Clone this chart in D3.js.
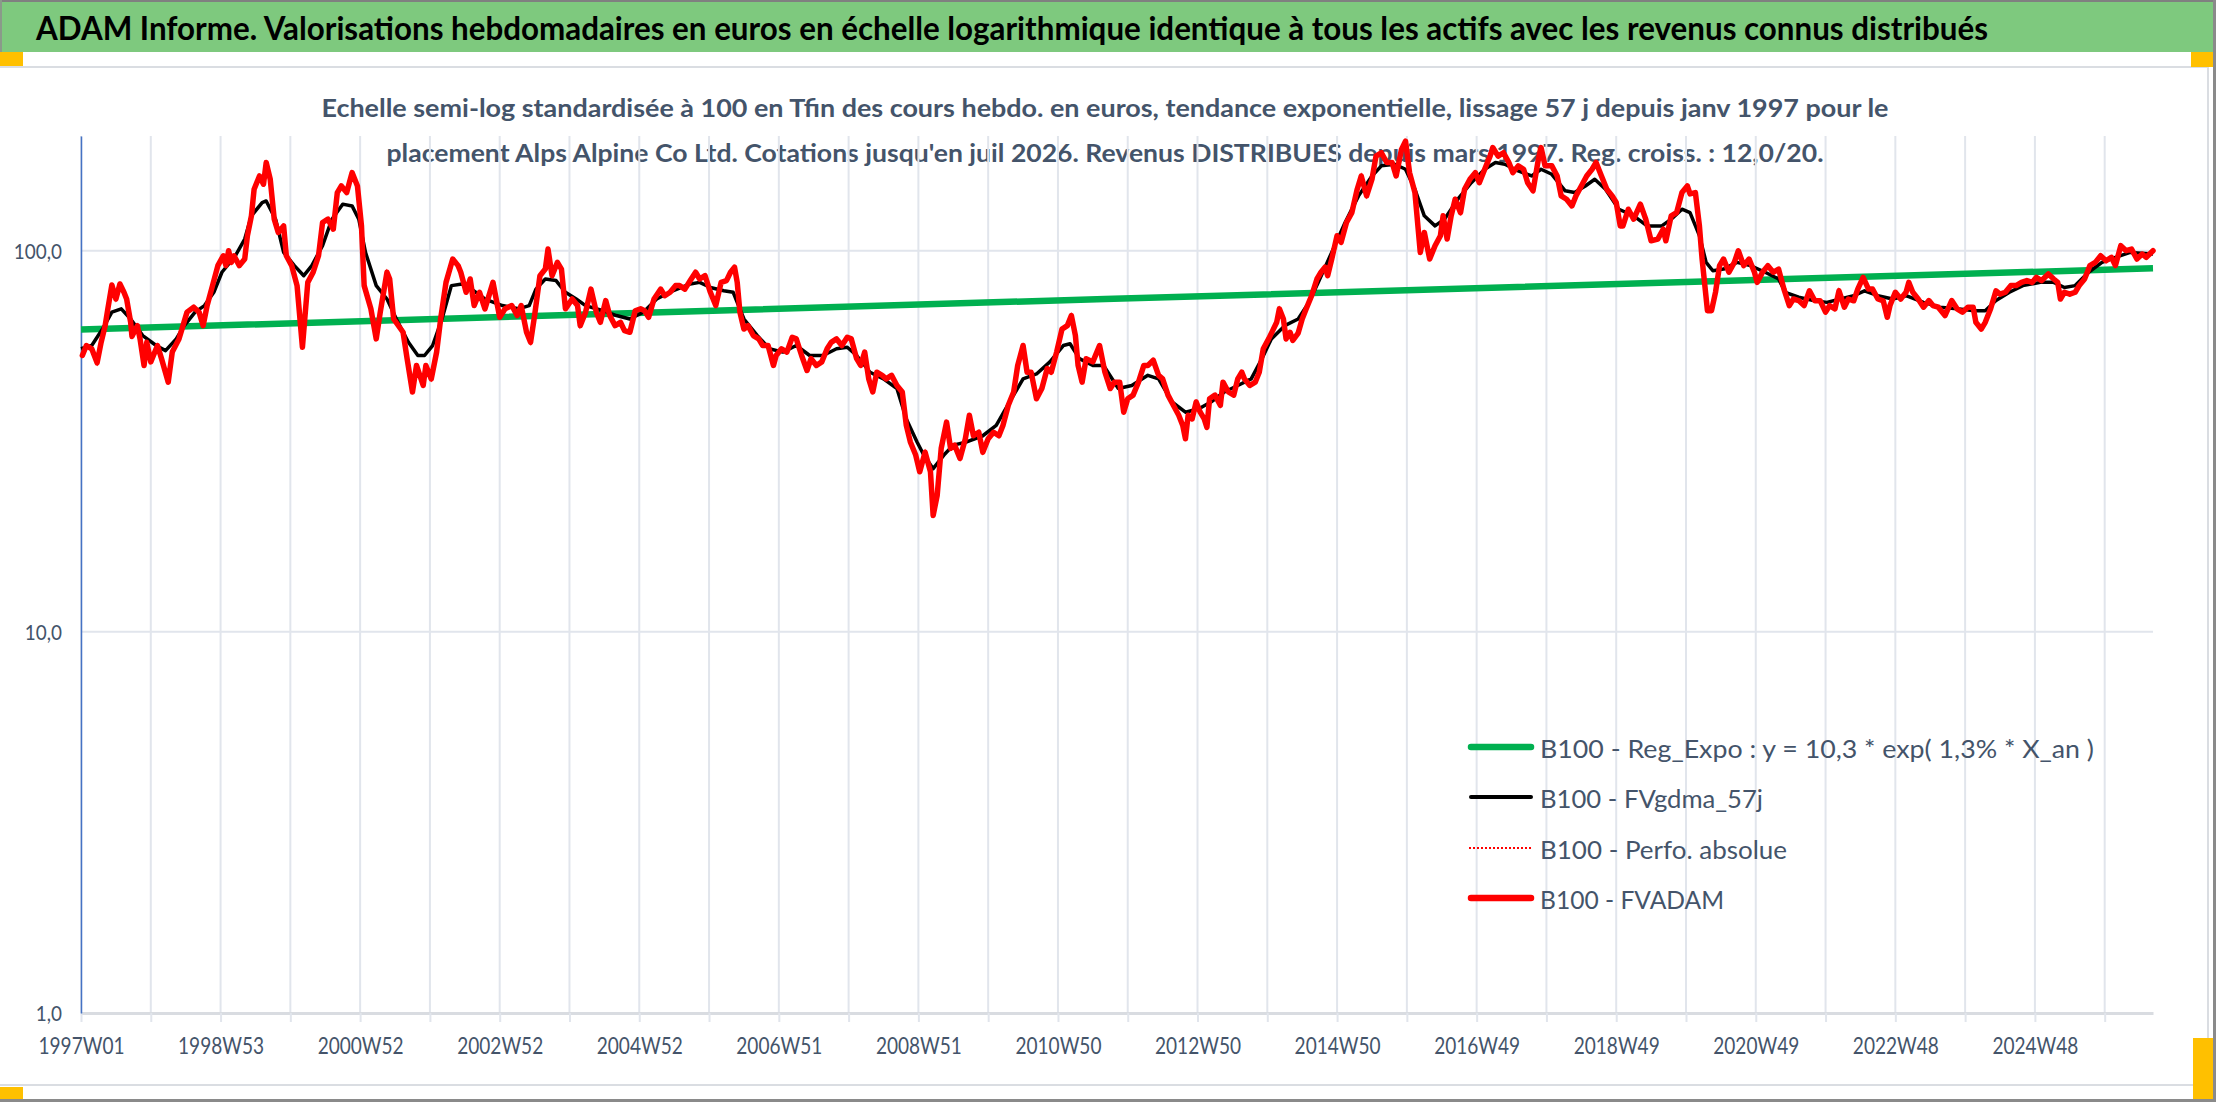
<!DOCTYPE html>
<html><head><meta charset="utf-8">
<script src="https://cdn.jsdelivr.net/npm/d3@7"></script>
<style>html,body{margin:0;padding:0;background:#fff;}svg{display:block;}</style>
</head><body>
<script>
// ---------- DATA ----------
const nWeeks = 1545; // weekly categories 1997W01 .. 2026 (juil)
const xTickLabels = ["1997W01","1998W53","2000W52","2002W52","2004W52","2006W51","2008W51","2010W50","2012W50","2014W50","2016W49","2018W49","2020W49","2022W48","2024W48"];
const yTickValues = [1, 10, 100];

// B100 - Reg_Expo (straight on log scale) [week index, value]
const regExpo = [[0,62.1],[763,74.7],[1544,89.9]];

// B100 - FVgdma_57j [week index, value]
const fvgdma = [[0,55.3],[8,56.4],[16,62.3],[23,69.0],[30,70.4],[37,66.2],[46,59.9],[56,56.4],[63,54.7],[71,58.7],[77,63.6],[85,69.0],[92,71.8],[99,77.8],[105,87.8],[115,97.0],[122,107.3],[127,123.5],[135,133.8],[138,135.1],[145,121.0],[151,99.0],[159,91.4],[166,86.0],[172,91.4],[180,103.1],[187,121.0],[195,132.5],[202,131.1],[207,121.0],[212,99.0],[220,81.0],[228,74.7],[235,66.2],[244,57.5],[251,53.1],[256,53.1],[262,56.4],[269,66.2],[276,81.0],[284,81.8],[291,79.3],[301,74.7],[314,71.8],[326,70.4],[334,71.8],[339,79.3],[346,84.3],[354,83.5],[361,77.8],[369,74.7],[376,71.8],
[389,69.6],[399,67.6],[409,66.2],[419,69.0],[429,74.7],[441,78.5],[454,81.8],[461,82.6],[469,80.1],[479,78.5],[486,77.8],[494,66.2],[504,59.9],[513,55.3],[523,54.2],[533,56.4],[543,53.1],[553,53.1],[563,55.3],[571,55.8],[578,53.1],[588,48.0],[598,46.1],[608,43.5],[615,36.2],[623,31.5],[628,29.1],[635,26.8],[643,29.1],[650,30.9],[660,31.5],[672,32.7],[682,34.8],[692,40.1],[702,46.1],[712,47.5],[722,51.1],[732,56.4],[737,57.0],[744,52.1],[754,50.0],[762,50.0],
[773,43.5],[783,44.3],[795,47.1],[803,46.1],[813,40.1],[823,37.7],[833,38.5],[842,40.1],[852,42.6],[862,44.3],[872,46.1],[880,52.1],[887,58.7],[897,63.6],[907,66.2],[915,73.2],[922,82.6],[932,99.0],[942,118.6],[952,139.3],[962,157.1],[969,167.0],[979,168.6],[987,163.6],[994,145.0],[1001,123.5],[1009,116.2],[1016,121.0],[1026,136.5],[1036,150.8],[1046,163.6],[1054,170.4],[1061,168.6],[1071,161.9],[1081,157.1],[1088,163.6],[1096,158.7],[1106,143.6],[1113,142.1],[1121,147.9],[1128,154.0],[1136,145.0],[1146,128.5],
[1157,123.5],[1167,116.2],[1178,116.2],[1185,121.0],[1193,128.5],[1199,125.9],[1206,109.5],[1211,93.2],[1216,88.6],[1224,89.5],[1234,93.2],[1244,91.4],[1255,87.8],[1265,84.3],[1270,77.8],[1280,75.5],[1291,74.0],[1301,73.2],[1311,74.7],[1321,76.2],[1329,78.5],[1339,76.2],[1350,74.7],[1360,76.2],[1373,73.2],[1385,71.1],[1398,70.4],[1411,69.6],[1419,69.6],[1427,74.0],[1437,77.8],[1447,81.0],[1460,82.6],[1470,82.6],[1478,80.1],[1486,81.0],[1496,87.8],[1506,93.2],[1516,96.1],[1527,99.0],[1544,98.0]];

// B100 - FVADAM [week index, value]
const fvadam = [[1,53.1],[4,56.4],[8,55.3],[12,50.8],[15,57.5],[18,63.6],[20,70.4],[23,81.3],[26,74.7],[29,81.8],[32,77.8],[34,74.7],[37,64.9],[38,59.6],[42,63.6],[44,58.7],[47,50.0],[49,57.5],[52,51.1],[57,56.4],[60,52.1],[65,45.2],[68,54.2],[73,58.7],[76,63.6],[79,69.0],[84,71.1],[88,69.0],[91,63.6],[94,71.8],[98,81.0],[102,91.4],[106,97.0],[108,91.4],[110,100],[112,93.2],[114,97.0],[118,91.4],[122,95.1],[124,109.5],[127,123.5],[129,145.0],[133,157.1],[136,149.5],[138,170.4],[141,154.0],[144,121.0],[147,111.7],[151,116.2],[153,97.0],[157,91.4],[161,81.0],[165,55.8],[169,82.6],[173,87.8],[177,97.0],[180,118.6],[184,121.0],[188,113.9],[191,142.1],[194,147.9],[198,142.1],[202,160.3],[206,147.9],[209,116.2],[211,81.0],[216,70.4],[220,58.7],[223,69.0],[228,87.8],[230,84.3],[233,66.2],[240,61.1],[243,52.1],[247,42.6],[250,50.0],[255,44.3],[257,50.0],[261,46.1],[265,54.2],[268,66.2],[272,82.6],[277,95.1],[281,91.4],[283,87.8],[287,77.8],[290,84.3],[293,71.8],[297,77.8],[301,70.4],[307,82.6],[312,66.9],[316,70.4],[321,71.8],[325,67.6],[328,71.8],[332,61.1],[335,57.5],[338,67.6],[342,86.0],[346,89.5],[348,101],[351,86.0],[355,93.2],[358,89.5],[361,70.4],[366,74.7],[370,71.8],[372,63.6],[376,69.0],
[380,79.3],[384,69.0],[387,64.9],[391,74.0],[394,67.6],[398,63.6],[402,64.9],[405,61.7],[409,61.1],[413,69.6],[417,70.4],[420,69.6],[423,66.9],[427,74.7],[432,79.3],[435,76.2],[439,77.8],[443,81.0],[446,81.0],[450,79.3],[454,83.5],[458,87.8],[461,84.3],[465,86.0],[469,77.8],[473,71.8],[477,82.6],[481,83.5],[484,87.8],[487,90.5],[489,82.6],[491,69.0],[494,62.3],[497,63.6],[501,59.9],[505,58.7],[508,56.4],[512,56.4],[516,50.0],[518,53.1],[522,55.3],[526,54.2],[530,59.3],[533,58.7],[537,53.1],[541,48.5],[544,52.1],[548,50.0],[552,51.1],[556,55.3],[559,57.5],[563,58.7],[567,56.4],[571,59.3],[574,58.7],[578,52.1],[581,50.0],[584,54.2],[587,46.1],[590,42.6],[593,48.0],[597,47.1],[600,46.1],[604,47.1],[608,44.3],[612,42.6],[615,34.8],[618,31.5],[622,29.1],[625,26.3],[629,29.6],[633,26.3],[635,20.2],[638,22.8],[641,30.3],[645,35.5],[648,30.3],[651,30.9],[655,28.5],[659,32.1],[662,37.0],[665,32.7],[669,33.4],[672,29.6],[676,32.1],[680,33.4],[684,32.7],[687,34.8],[691,39.3],[695,42.6],[698,50.0],[702,56.4],[705,48.0],[708,48.0],[712,40.9],[716,43.5],[720,49.1],[723,48.0],[727,54.2],[731,62.3],[735,63.6],[738,67.6],[741,59.9],[743,50.0],[746,45.2],[749,52.1],[754,51.1],[759,56.4],[763,48.0],
[767,43.5],[770,45.2],[774,45.2],[777,37.7],[780,40.9],[784,41.8],[788,45.2],[792,50.0],[795,50.0],[799,51.6],[803,47.1],[806,46.1],[810,41.8],[814,39.3],[818,37.0],[821,34.8],[823,32.1],[825,37.0],[828,36.2],[831,40.1],[834,37.7],[837,36.2],[839,34.4],[841,40.9],[845,41.8],[849,39.3],[851,45.2],[855,42.6],[859,41.8],[862,46.1],[865,48.0],[867,46.1],[871,44.3],[875,45.2],[878,48.0],[881,55.3],[885,58.7],[888,61.7],[891,64.9],[893,70.4],[896,66.2],[898,58.7],[901,61.1],[903,58.2],[907,60.8],[910,66.2],[913,70.4],[917,76.2],[921,84.3],[924,87.8],[927,90.5],[929,86.0],[932,95.1],[936,109.5],[939,105.2],[943,118.6],[947,125.9],[951,145.0],[954,157.1],[958,139.3],[962,154.0],[965,177.1],[969,180.8],[973,170.4],[977,170.4],[980,157.1],[984,184.5],[987,193.9],[990,160.3],[994,142.1],[998,99.0],[1001,111.7],[1005,95.1],[1009,103.1],[1013,109.5],[1015,123.5],[1018,107.3],[1021,123.5],[1024,136.5],[1028,125.9],[1031,145.0],[1035,154.0],[1039,160.3],[1042,150.8],[1046,163.6],[1050,177.1],[1052,186.5],[1056,177.1],[1060,180.8],[1064,170.4],[1067,160.3],[1071,167.0],[1075,163.6],[1078,150.8],[1082,143.6],[1086,173.8],[1088,186.5],[1091,167.0],[1096,167.0],[1100,157.1],[1103,139.3],[1107,136.5],[1111,131.1],[1114,139.3],[1118,147.9],[1122,157.1],[1126,163.6],[1129,170.4],[1133,157.1],[1137,145.0],[1141,139.3],[1144,133.8],
[1147,116.2],[1149,116.2],[1153,128.5],[1157,121.0],[1162,132.5],[1166,121.0],[1170,106.2],[1175,107.3],[1179,113.9],[1181,106.2],[1185,123.5],[1189,125.9],[1193,142.1],[1197,147.9],[1199,141.0],[1203,142.1],[1206,116.2],[1208,95.1],[1212,69.6],[1215,69.6],[1218,77.8],[1221,91.4],[1224,95.1],[1228,87.8],[1232,93.2],[1235,100],[1239,91.4],[1243,95.1],[1247,87.8],[1249,82.6],[1253,87.8],[1257,91.4],[1261,87.8],[1265,89.5],[1269,79.3],[1273,71.8],[1276,74.7],[1280,74.0],[1284,71.8],[1288,78.5],[1292,73.9],[1296,73.9],[1300,69.0],[1303,71.8],[1307,70.4],[1310,78.5],[1314,71.1],[1317,74.7],[1321,73.9],[1324,79.3],[1328,85.1],[1332,79.3],[1335,79.3],[1339,74.7],[1343,73.9],[1346,66.9],[1348,71.8],[1352,77.8],[1356,74.7],[1360,77.8],[1362,82.6],[1365,77.8],[1369,74.7],[1373,71.1],[1377,74.0],[1380,71.8],[1384,71.1],[1389,67.6],[1394,74.0],[1398,70.4],[1402,69.0],[1406,71.1],[1410,71.1],[1412,64.9],[1416,62.3],[1419,64.9],[1423,70.4],[1427,78.5],[1430,76.9],[1434,77.8],[1438,81.0],[1442,81.0],[1446,82.6],[1450,83.5],[1454,82.6],[1457,85.1],[1461,83.5],[1466,86.9],[1470,84.3],[1473,82.6],[1475,74.7],[1478,77.8],[1482,76.9],[1486,77.8],[1489,81.0],[1493,84.3],[1497,91.4],[1501,93.2],[1505,97.0],[1509,94.1],[1513,96.1],[1516,91.4],[1520,103.1],[1524,100],[1528,101.0],[1532,95.1],[1536,98.0],[1539,96.1],[1544,100]];

// B100 - Perfo. absolue (hidden under FVADAM in the picture)
const perfoAbsolue = fvadam;

const titleText = "ADAM Informe. Valorisations hebdomadaires en euros en échelle logarithmique identique à tous les actifs avec les revenus connus distribués";
const subtitleLines = [
  "Echelle semi-log standardisée à 100 en Tfin des cours hebdo. en euros, tendance exponentielle, lissage 57 j depuis janv 1997 pour le",
  "placement Alps Alpine Co Ltd. Cotations jusqu'en juil 2026. Revenus DISTRIBUES depuis mars 1997. Reg. croiss. : 12,0/20."
];
const legendLabels = ["B100 - Reg_Expo : y = 10,3 * exp( 1,3% *  X_an )","B100 - FVgdma_57j","B100 - Perfo. absolue","B100 - FVADAM"];

// ---------- DRAW ----------
const W = 2216, H = 1102;
const FONT = "Lato, 'Open Sans', sans-serif";
const TXT = "#44546A";
const svg = d3.select("body").append("svg").attr("width", W).attr("height", H);

// frame
svg.append("rect").attr("x",0).attr("y",0).attr("width",W).attr("height",H).attr("fill","#fff");
svg.append("rect").attr("x",0).attr("y",2).attr("width",2213).attr("height",50).attr("fill","#7EC97E");
svg.append("rect").attr("x",0).attr("y",0).attr("width",W).attr("height",2).attr("fill","#808080");
svg.append("rect").attr("x",0).attr("y",0).attr("width",2).attr("height",52).attr("fill","#8a9a8a");
svg.append("rect").attr("x",2213).attr("y",0).attr("width",3).attr("height",H).attr("fill","#8a8a8a");
svg.append("rect").attr("x",0).attr("y",1099).attr("width",W).attr("height",3).attr("fill","#8a8a8a");
svg.append("rect").attr("x",-1).attr("y",67).attr("width",2209).attr("height",1018)
  .attr("fill","#fff").attr("stroke","#DADDE2").attr("stroke-width",2);
// selection handles
[[0,52,23,14],[2191,52,22,15],[0,1087,23,12],[2193,1038,20,61]].forEach(r=>{
  svg.append("rect").attr("x",r[0]).attr("y",r[1]).attr("width",r[2]).attr("height",r[3]).attr("fill","#FFC000");
});

function fitText(sel, target){ sel.attr("textLength", target).attr("lengthAdjust","spacingAndGlyphs"); }

// title
fitText(svg.append("text").attr("x",36).attr("y",40).attr("font-family",FONT).attr("font-weight","bold")
  .attr("font-size",32).attr("fill","#000").text(titleText), 1952);

// subtitle (drawn before the plot so the lines pass over it)
const subW = [1567, 1437];
const subY = [117, 162];
subtitleLines.forEach((t,i)=>{
  fitText(svg.append("text").attr("x",1105).attr("y",subY[i]).attr("text-anchor","middle")
    .attr("font-family",FONT).attr("font-weight","bold").attr("font-size",24).attr("fill",TXT).text(t), subW[i]);
});

// scales
const x = d3.scaleLinear().domain([0, nWeeks-1]).range([81, 2153]);
const y = d3.scaleLog().domain([1, 200]).range([1013, 136]);

const grid = svg.append("g");
const weekTicks = d3.range(0, nWeeks, 52);
grid.selectAll("line.v").data(weekTicks).join("line")
  .attr("x1",d=>x(d)).attr("x2",d=>x(d)).attr("y1",136).attr("y2",1013)
  .attr("stroke","#E1E5EC").attr("stroke-width",2);
grid.selectAll("line.h").data([10,100]).join("line")
  .attr("x1",81).attr("x2",2153).attr("y1",d=>y(d)).attr("y2",d=>y(d))
  .attr("stroke","#E1E5EC").attr("stroke-width",2);

// x axis
const xAxis = d3.axisBottom(x).tickValues(weekTicks)
  .tickFormat(d => d % 104 === 0 ? xTickLabels[d/104] : "")
  .tickSize(9).tickSizeOuter(0).tickPadding(14);
const gx = svg.append("g").attr("transform","translate(0,1013)").call(xAxis);
gx.select(".domain").attr("stroke","#D9DCE1").attr("stroke-width",3);
gx.selectAll(".tick line").attr("stroke","#E1E5EC").attr("stroke-width",2);
gx.selectAll(".tick text").attr("font-family",FONT).attr("font-size",22.5).attr("fill",TXT)
  .attr("dy",0).attr("y",41)
  .each(function(){ if (this.textContent) fitText(d3.select(this), 86); });

// y axis
const yAxis = d3.axisLeft(y).tickValues(yTickValues)
  .tickFormat(d => d3.format(".1f")(d).replace(".", ",")).tickSize(0).tickPadding(19).tickSizeOuter(0);
const gy = svg.append("g").attr("transform","translate(81,0)").call(yAxis);
gy.select(".domain").attr("stroke","#4472C4").attr("stroke-width",1.5);
gy.selectAll(".tick text").attr("font-family",FONT).attr("font-size",21).attr("fill",TXT).attr("dy","0.36em")
  .each(function(){ const L = this.getComputedTextLength(); fitText(d3.select(this), L*0.9); });

// lines
const line = d3.line().x(d=>x(d[0])).y(d=>y(d[1]));
const plot = svg.append("g");
plot.append("path").datum(regExpo).attr("d",line).attr("fill","none").attr("stroke","#00B050").attr("stroke-width",6.5);
plot.append("path").datum(fvgdma).attr("d",line).attr("fill","none").attr("stroke","#000").attr("stroke-width",3.5).attr("stroke-linejoin","round");
plot.append("path").datum(perfoAbsolue).attr("d",line).attr("fill","none").attr("stroke","#FF0000").attr("stroke-width",2).attr("stroke-dasharray","2,2");
plot.append("path").datum(fvadam).attr("d",line).attr("fill","none").attr("stroke","#FF0000").attr("stroke-width",5.5).attr("stroke-linejoin","round").attr("stroke-linecap","round");

// legend
const legY = [747, 797, 848, 898];
const legW = [554, 223, 247, 184];
const legStyle = [
  {c:"#00B050", w:6.5, dash:null},
  {c:"#000000", w:4, dash:null},
  {c:"#FF0000", w:2, dash:"2,2"},
  {c:"#FF0000", w:6.5, dash:null}
];
const leg = svg.append("g");
legendLabels.forEach((t,i)=>{
  const s = legStyle[i];
  const l = leg.append("line").attr("x1",1471).attr("x2",1531).attr("y1",legY[i]).attr("y2",legY[i])
    .attr("stroke",s.c).attr("stroke-width",s.w).attr("stroke-linecap", s.dash ? "butt" : "round");
  if (s.dash) l.attr("stroke-dasharray", s.dash).attr("x1",1469).attr("x2",1533);
  fitText(leg.append("text").attr("x",1540).attr("y",legY[i]+11).attr("font-family",FONT)
    .attr("font-size",24.5).attr("fill",TXT).text(t), legW[i]);
});
</script>
</body></html>
